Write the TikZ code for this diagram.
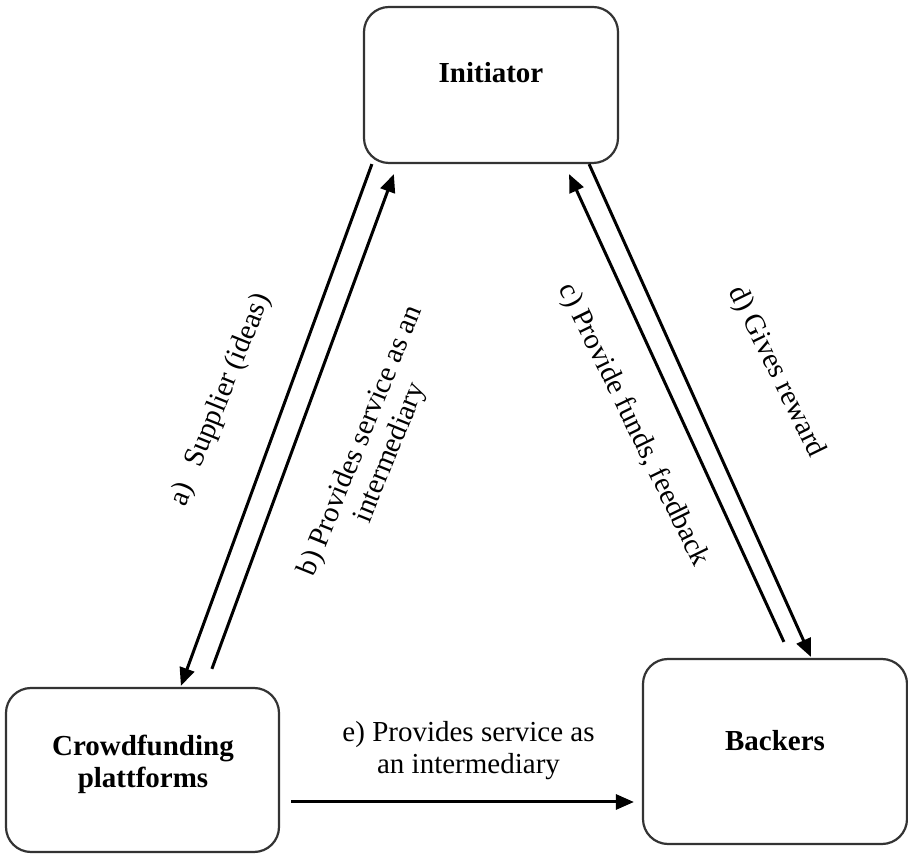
\documentclass[tikz,border=0pt]{standalone}
\usepackage{fontspec}
\setmainfont{Liberation Serif}
\usetikzlibrary{calc,arrows.meta}

\tikzset{
  actor/.style={draw=black!80, line width=2.2pt, rounded corners=25pt,
    inner sep=0pt, fill=white},
  actortext/.style={font=\fontsize{29}{32}\selectfont\bfseries, align=center, inner sep=0pt},
  flow/.style={line width=3pt, -{Triangle[length=18pt,width=15pt]}},
  flowtext/.style={font=\fontsize{29}{32}\selectfont, align=center, inner sep=0pt}
}

\begin{document}
\begin{tikzpicture}[x=1pt, y=1pt]
  \useasboundingbox (0,0) rectangle (908,854);

  % the three actors
  \node[actor, minimum width=254pt, minimum height=156pt] (init) at (491,769) {};
  \node[actor, minimum width=273pt, minimum height=164pt] (crowd) at (142.5,84) {};
  \node[actor, minimum width=264pt, minimum height=185pt] (back) at (775,102.5) {};

  \node[actortext, anchor=base] (initT) at (491,771) {Initiator};
  \node[actortext] (crowdT) at (143,90) {Crowdfunding\\plattforms};
  \node[actortext, anchor=base] (backT) at (775,103) {Backers};

  % connectors
  \draw[flow] ($(init.south west)+(9,0)$) -- ($(crowd.north west)+(176,1)$);
  \draw[flow] ($(crowd.north west)+(207,18)$) -- ($(init.south west)+(31,-10)$);
  \draw[flow] ($(back.north west)+(142,16)$) -- ($(init.south east)+(-50,-10)$);
  \draw[flow] ($(init.south east)+(-30,0)$) -- ($(back.north west)+(169,1)$);
  \draw[flow] ($(crowd.east)+(11,-32)$) -- ($(back.west)+(-8,-50.5)$);

  % connector labels
  \node[flowtext, rotate=68] (la) at (221,454) {a)\hspace{0.65em}Supplier (ideas)};
  \node[flowtext, rotate=68] (lb) at (376,407) {b) Provides service as an\\intermediary};
  \node[flowtext, rotate=-64] (lc) at (633,429) {c) Provide funds, feedback};
  \node[flowtext, rotate=-64] (ld) at (776,482) {d) Gives reward};
  \node[flowtext] (le) at (468.5,103.5) {e) Provides service as\\an intermediary};
\end{tikzpicture}
\end{document}
